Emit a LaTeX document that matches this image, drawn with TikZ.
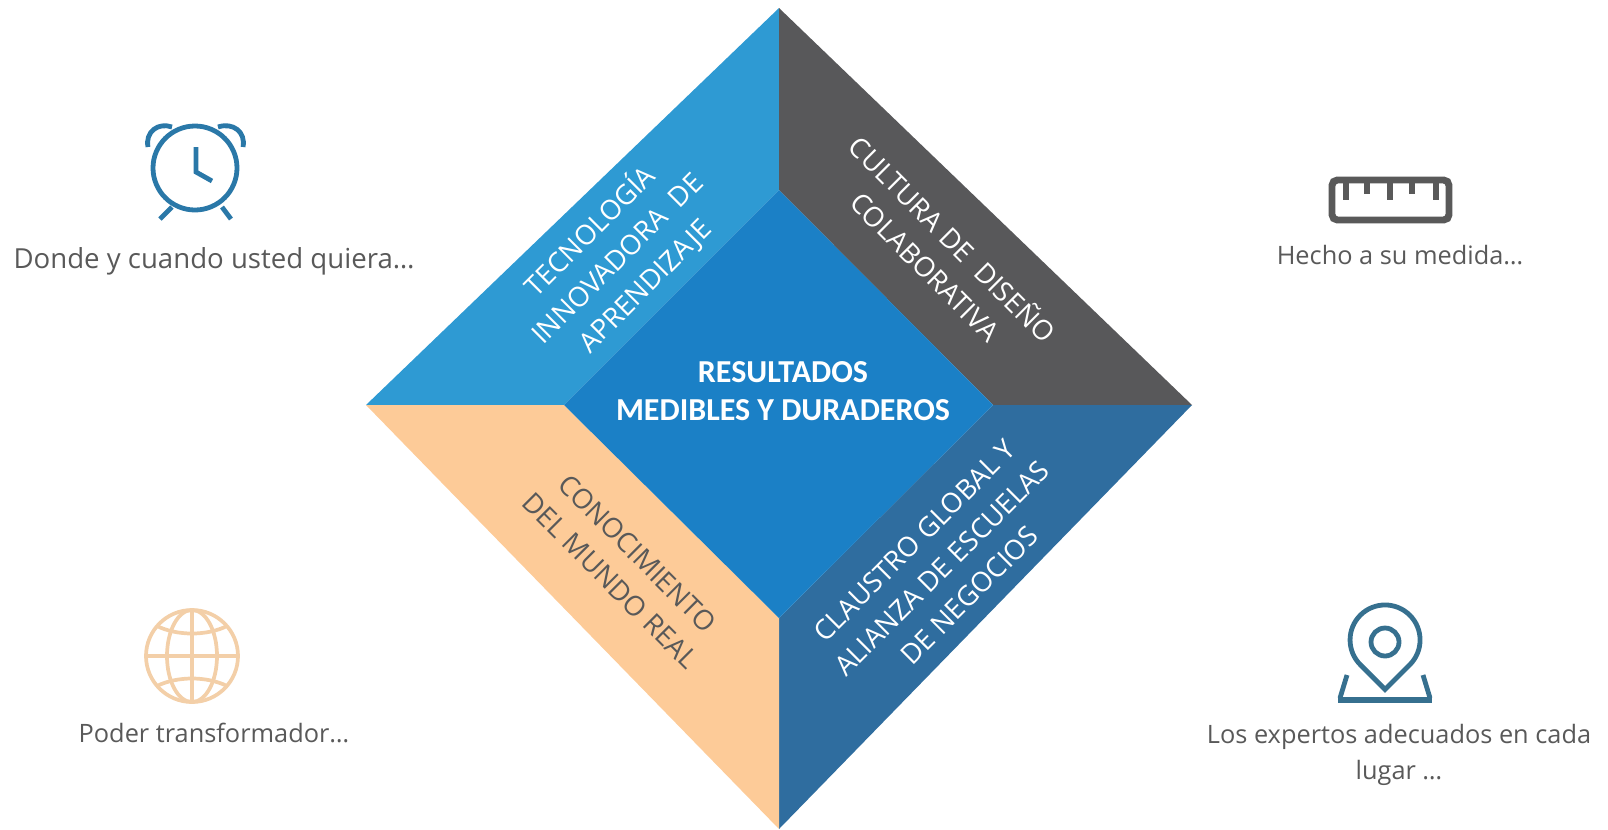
\documentclass[tikz,border=0pt]{standalone}
\usepackage{fontspec}
\setmainfont{Carlito}
\newfontfamily\opensans{Open Sans}
\usepackage{tikz}
\definecolor{techblue}{HTML}{2E9AD3}
\definecolor{cultgrey}{HTML}{58585A}
\definecolor{centerblue}{HTML}{1B80C6}
\definecolor{claublue}{HTML}{2F6D9F}
\definecolor{peach}{HTML}{FDCB98}
\definecolor{icongrey}{HTML}{595959}
\definecolor{iconblue}{HTML}{2A78A8}
\definecolor{iconteal}{HTML}{36708F}
\definecolor{globepeach}{HTML}{F3CFA8}
\tikzset{
	sidetext/.style={align=center,inner sep=0pt,font=\opensans\fontsize{20.6}{29}\selectfont},
	whitetext/.style={sidetext,text=white},
	greytext/.style={sidetext,text=icongrey},
	caption/.style={align=center,inner sep=0pt,text=icongrey}
}

\begin{document}
\begin{tikzpicture}[x=0.75pt,y=-0.75pt]
	\useasboundingbox (0,0) rectangle (1608,829);

	\coordinate (top) at (779,8);
	\coordinate (left) at (366,405);
	\coordinate (right) at (1192,405);
	\coordinate (bottom) at (779,829);
	\coordinate (intop) at (779,190);
	\coordinate (inleft) at (564,405);
	\coordinate (inright) at (993,405);
	\coordinate (inbottom) at (779,618);

	\fill [techblue] (left) -- (top) -- (intop) -- (inleft) -- cycle;
	\fill [cultgrey] (top) -- (right) -- (inright) -- (intop) -- cycle;
	\fill [claublue] (right) -- (bottom) -- (inbottom) -- (inright) -- cycle;
	\fill [peach] (bottom) -- (left) -- (inleft) -- (inbottom) -- cycle;
	\fill [centerblue] (intop) -- (inright) -- (inbottom) -- (inleft) -- cycle;

	\node (center) [align=center,inner sep=0pt,text=white,font=\fontsize{24}{29}\selectfont\bfseries] at (783,391) {RESULTADOS\\MEDIBLES Y DURADEROS};
	\node (tech) [whitetext,rotate=45] at (617,258) {TECNOLOGÍA\\INNOVADORA\ \ DE\\APRENDIZAJE};
	\node (cult) [whitetext,rotate=-45] at (940,252) {CULTURA DE\ \ DISEÑO\\COLABORATIVA};
	\node (claus) [whitetext,rotate=45] at (942,568) {CLAUSTRO GLOBAL Y\\ALIANZA DE ESCUELAS\\DE NEGOCIOS};
	\node (cono) [greytext,rotate=-45] at (624,567) {CONOCIMIENTO\\DEL MUNDO REAL};

	% clock
	\begin{scope}[iconblue,line width=3.6pt]
		\draw (195,168) circle (42);
		\draw (196,147) -- (196,172) -- (212,181);
		\draw (148,147) .. controls (145,132) and (158,122) .. (172,127);
		\draw (243,147) .. controls (246,132) and (233,122) .. (218,127);
		\draw (172,207) -- (160,219);
		\draw (222,207) -- (231,219);
	\end{scope}
	\node (clock) [caption,font=\opensans\fontsize{20.7}{26}\selectfont] at (214,261) {Donde y cuando usted quiera…};

	% ruler
	\begin{scope}[icongrey,line width=5.2pt]
		\draw [rounded corners=4] (1332,180) rectangle (1449,220);
		\foreach \xpos/\ylen in {1346/200,1367/194,1390/200,1412/194,1436/200}
			\draw (\xpos,180) -- (\xpos,\ylen);
	\end{scope}
	\node (ruler) [caption,font=\opensans\fontsize{19}{22}\selectfont] at (1400,255) {Hecho a su medida…};

	% globe
	\begin{scope}[shift={(192,656)},globepeach,line width=2.8pt]
		\draw (0,0) circle (46);
		\draw (0,0) ellipse (25 and 46);
		\draw (0,-46) -- (0,46);
		\draw (-46,0) -- (46,0);
		\draw (-35,-30) .. controls (-15,-20) and (15,-20) .. (35,-30);
		\draw (-35,30) .. controls (-15,20) and (15,20) .. (35,30);
	\end{scope}
	\node (globe) [caption,font=\opensans\fontsize{19}{22}\selectfont] at (214,733) {Poder transformador…};

	% pin
	\begin{scope}[shift={(1385,640)},iconteal,line width=3.6pt]
		\draw (0,2) circle (14);
		\draw (0,49.4) -- (-24.7,24.7) arc (135:405:35) -- cycle;
		\draw (-38,35) -- (-45,58);
		\draw (38,35) -- (45,58);
		\draw [line width=4.5pt] (-47,60) -- (47,60);
	\end{scope}
	\node (pin) [caption,font=\opensans\fontsize{19}{27}\selectfont] at (1399,755) {Los expertos adecuados en cada\\lugar …};
\end{tikzpicture}
\end{document}
